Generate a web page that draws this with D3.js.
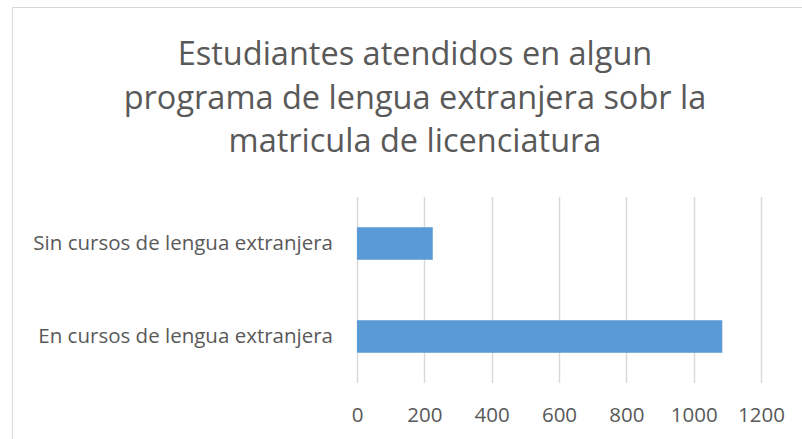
<!DOCTYPE html>
<html>
<head>
<meta charset="utf-8">
<script src="https://cdn.jsdelivr.net/npm/d3@7"></script>
<style>
  body { margin: 0; background: #fff; }
  svg { display: block; font-family: "Open Sans", "Liberation Sans", sans-serif; }
</style>
</head>
<body>
<svg id="chart" width="802" height="439"></svg>
<script>
// data
var titleLines = [
  'Estudiantes atendidos en algun',
  'programa de lengua extranjera sobr la',
  'matricula de licenciatura'
];
var categories = ['Sin cursos de lengua extranjera', 'En cursos de lengua extranjera'];
var values = [225, 1085];
var tickValues = [0, 200, 400, 600, 800, 1000, 1200];

var svg = d3.select('#chart');
var textColor = '#595959';

// chart border
svg.append('rect')
  .attr('x', 12.5).attr('y', 7.5)
  .attr('width', 820).attr('height', 460)
  .attr('fill', '#fff')
  .attr('stroke', '#d9d9d9');

// title
svg.append('g')
  .selectAll('text')
  .data(titleLines)
  .enter()
  .append('text')
  .attr('x', 415)
  .attr('y', function (d, i) { return 65 + i * 43.5; })
  .attr('text-anchor', 'middle')
  .attr('fill', textColor)
  .style('font-size', '32.5px')
  .text(function (d) { return d; });

// scales
var x = d3.scaleLinear().domain([0, 1200]).range([357, 761]);
var y = d3.scaleBand().domain(categories).range([197, 383])
  .paddingInner(0.65).paddingOuter(0.325);

// gridlines
svg.append('g')
  .selectAll('line')
  .data(tickValues)
  .enter()
  .append('line')
  .attr('x1', function (d) { return Math.round(x(d)) + 0.5; })
  .attr('x2', function (d) { return Math.round(x(d)) + 0.5; })
  .attr('y1', 197).attr('y2', 383)
  .attr('stroke', '#d9d9d9')
  .attr('stroke-width', 1.5);

// bars
svg.append('g')
  .selectAll('rect')
  .data(values)
  .enter()
  .append('rect')
  .attr('x', x(0))
  .attr('y', function (d, i) { return y(categories[i]); })
  .attr('width', function (d) { return x(d) - x(0); })
  .attr('height', y.bandwidth())
  .attr('fill', '#5b9bd5');

// x axis labels
var xAxis = d3.axisBottom(x).tickValues(tickValues)
  .tickFormat(d3.format('d')).tickSize(0).tickPadding(0);
var gx = svg.append('g')
  .attr('transform', 'translate(0,407.5)')
  .call(xAxis);
gx.select('.domain').remove();
gx.selectAll('text')
  .attr('fill', textColor)
  .style('font-size', '20.5px')
  .style('font-family', '"Open Sans", sans-serif');

// category labels
var yAxis = d3.axisLeft(y).tickSize(0).tickPadding(0);
var gy = svg.append('g')
  .attr('transform', 'translate(333,0)')
  .call(yAxis);
gy.select('.domain').remove();
gy.selectAll('text')
  .attr('fill', textColor)
  .style('font-size', '20.5px')
  .style('font-family', '"Open Sans", sans-serif');
</script>
</body>
</html>
